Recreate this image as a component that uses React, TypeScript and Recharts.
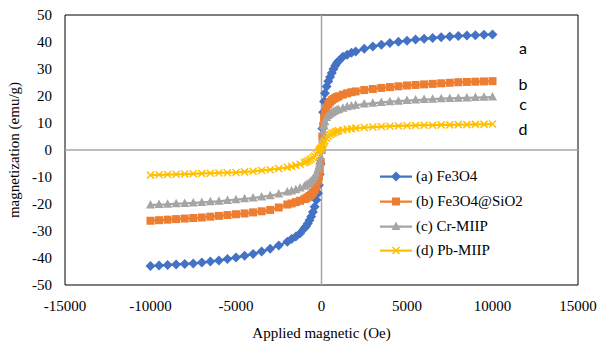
import React from "react";
import { LineChart, Line, XAxis, YAxis, ReferenceLine, ReferenceArea, Label } from "recharts";

// applied field (Oe)
const fieldOe = [
  -10000, -9500, -9000, -8500, -8000, -7500, -7000, -6500, -6000, -5500, -5000, -4500, -4000, -3500, -3000, -2500,
  -2000, -1750, -1500, -1250, -1000, -900, -800, -700, -600, -500, -400, -300, -200, -150, -100, -50, 0,
  50, 100, 150, 200, 300, 400, 500, 600, 700, 800, 900, 1000, 1250, 1500, 1750, 2000,
  2500, 3000, 3500, 4000, 4500, 5000, 5500, 6000, 6500, 7000, 7500, 8000, 8500, 9000, 9500, 10000,
];

// magnetization (emu/g)
const fe3o4 = [
  -43, -42.8, -42.6, -42.4, -42.2, -42, -41.7, -41.3, -40.9, -40.4, -39.8, -39.2, -38.5, -37.6, -36.6, -35.4,
  -34, -33, -32, -30.8, -29, -28.2, -27.2, -26, -24.6, -23, -21, -18.5, -16, -13, -9, -5, 0,
  8, 14, 18, 21, 23.5, 25.5, 27, 28.5, 30, 31.2, 32.2, 33, 34.5, 35.3, 36, 36.5,
  37.5, 38.3, 39, 39.6, 40.1, 40.5, 40.9, 41.2, 41.5, 41.8, 42, 42.2, 42.4, 42.5, 42.7, 42.8,
];
const fe3o4SiO2 = [
  -26.2, -26, -25.8, -25.6, -25.4, -25.2, -25, -24.7, -24.4, -24.1, -23.8, -23.5, -23.1, -22.7, -22.2, -21.3,
  -20.2, -19.8, -19.3, -18.8, -18.2, -17.9, -17.5, -17, -16.5, -15.8, -14.9, -13.6, -11.5, -9.8, -7.5, -4.5, 0,
  5, 9, 12, 14, 15.8, 17, 17.8, 18.4, 18.9, 19.3, 19.6, 19.9, 20.5, 21, 21.4, 21.7,
  22.2, 22.6, 23, 23.3, 23.6, 23.9, 24.1, 24.3, 24.5, 24.7, 24.9, 25.1, 25.2, 25.3, 25.4, 25.5,
];
const crMiip = [
  -20.4, -20.2, -20.1, -19.9, -19.8, -19.6, -19.4, -19.2, -19, -18.7, -18.4, -18.1, -17.8, -17.4, -16.9, -16.3,
  -15.6, -15.2, -14.7, -14.1, -13.4, -13, -12.6, -12.1, -11.5, -10.8, -9.9, -8.7, -7, -5.9, -4.5, -2.5, 0,
  4, 7, 9, 10.5, 12, 12.8, 13.3, 13.8, 14.2, 14.5, 14.8, 15, 15.5, 16, 16.3, 16.6,
  17, 17.3, 17.6, 17.9, 18.1, 18.3, 18.5, 18.7, 18.8, 19, 19.1, 19.2, 19.3, 19.4, 19.5, 19.6,
];
const pbMiip = [
  -9.3, -9.2, -9.1, -9, -8.9, -8.8, -8.7, -8.6, -8.5, -8.4, -8.3, -8.1, -7.9, -7.6, -7.3, -6.9,
  -6.4, -6.1, -5.7, -5.3, -4.7, -4.4, -4.1, -3.7, -3.3, -2.8, -2.2, -1.5, -0.8, -0.3, 0.2, 0.5, 0.8,
  1.3, 2.1, 2.8, 3.4, 4.3, 5.1, 5.7, 6.1, 6.4, 6.7, 6.9, 7.1, 7.4, 7.7, 7.9, 8.1,
  8.3, 8.5, 8.7, 8.8, 8.9, 9, 9.1, 9.2, 9.2, 9.3, 9.3, 9.4, 9.4, 9.5, 9.5, 9.6,
];

const xTicks = [-15000, -10000, -5000, 0, 5000, 10000, 15000];
const yTicks = [-50, -40, -30, -20, -10, 0, 10, 20, 30, 40, 50];

const seriesKeys = ["a", "b", "c", "d"];
const seriesNames = ["(a) Fe3O4", "(b) Fe3O4@SiO2", "(c) Cr-MIIP", "(d) Pb-MIIP"];
const seriesColors = ["#4472C4", "#ED7D31", "#A5A5A5", "#FFC000"];
const curveLetters = ["a", "b", "c", "d"];

const data = fieldOe.map((x, i) => ({
  x,
  a: fe3o4[i],
  b: fe3o4SiO2[i],
  c: crMiip[i],
  d: pbMiip[i],
}));

const serif = "Liberation Serif, DejaVu Serif, Times New Roman, serif";

function Marker({ kind, cx, cy, color }: { kind: number; cx: number; cy: number; color: string }) {
  if (kind === 0) {
    return <polygon points={`${cx},${cy - 5} ${cx + 5},${cy} ${cx},${cy + 5} ${cx - 5},${cy}`} fill={color} />;
  }
  if (kind === 1) {
    return <rect x={cx - 4} y={cy - 4} width={8} height={8} fill={color} />;
  }
  if (kind === 2) {
    return <polygon points={`${cx},${cy - 5} ${cx + 4.5},${cy + 3.5} ${cx - 4.5},${cy + 3.5}`} fill={color} />;
  }
  return (
    <g stroke={color} strokeWidth={1.5}>
      <line x1={cx - 3.5} y1={cy - 3.5} x2={cx + 3.5} y2={cy + 3.5} />
      <line x1={cx - 3.5} y1={cy + 3.5} x2={cx + 3.5} y2={cy - 3.5} />
    </g>
  );
}

const letterTops = [47, 83, 103, 128];
const legendTops = [176, 201, 226, 250];

export default function App() {
  return (
    <div style={{ position: "absolute", left: 0, top: 0, width: 600, height: 341, background: "#fff", fontFamily: serif }}>
      <LineChart width={600} height={341} data={data} margin={{ top: 15, right: 22, bottom: 0, left: 0 }}>
        <XAxis
          dataKey="x"
          type="number"
          domain={[-15000, 15000]}
          ticks={xTicks}
          axisLine={false}
          tickLine={false}
          height={56}
          tickMargin={9}
          fontFamily={serif}
          tick={{ fontSize: 15, fill: "#000", fontFamily: serif }}
        >
          <Label value="Applied magnetic (Oe)" position="insideBottom" offset={3} fontFamily={serif} style={{ fontSize: 15, fill: "#000", fontFamily: serif }} />
        </XAxis>
        <YAxis
          type="number"
          domain={[-50, 50]}
          ticks={yTicks}
          axisLine={false}
          tickLine={false}
          width={65}
          tickMargin={7}
          fontFamily={serif}
          tick={{ fontSize: 15, fill: "#000", fontFamily: serif }}
        >
          <Label
            value="magnetization (emu/g)"
            angle={-90}
            position="insideLeft"
            offset={14}
            fontFamily={serif}
            style={{ fontSize: 15, fill: "#000", fontFamily: serif, textAnchor: "middle" }}
          />
        </YAxis>
        <ReferenceLine x={0} stroke="#A6A6A6" strokeWidth={1.5} />
        <ReferenceLine y={0} stroke="#A6A6A6" strokeWidth={1.5} />
        <ReferenceArea x1={-15000} x2={15000} y1={-50} y2={50} fill="none" stroke="#000" strokeWidth={1} />
        {seriesKeys.map((k, s) => (
          <Line
            key={k}
            dataKey={k}
            type="linear"
            stroke={seriesColors[s]}
            strokeWidth={2.25}
            isAnimationActive={false}
            activeDot={false}
            dot={(p: any) => <Marker key={`${k}-${p.index}`} kind={s} cx={p.cx} cy={p.cy} color={seriesColors[s]} />}
          />
        ))}
      </LineChart>

      {curveLetters.map((t, i) => (
        <span
          key={t}
          style={{
            position: "absolute",
            left: 523,
            top: letterTops[i],
            transform: "translate(-50%, -50%)",
            fontFamily: "Lato, 'Liberation Sans', sans-serif",
            fontSize: 16,
            color: "#000",
          }}
        >
          {t}
        </span>
      ))}

      {seriesNames.map((name, i) => (
        <div
          key={name}
          style={{
            position: "absolute",
            left: 380,
            top: legendTops[i],
            transform: "translateY(-50%)",
            display: "flex",
            alignItems: "center",
            fontFamily: serif,
            fontSize: 15,
            color: "#000",
            whiteSpace: "nowrap",
          }}
        >
          <svg width={32} height={12} style={{ marginRight: 4 }}>
            <line x1={0} y1={6} x2={32} y2={6} stroke={seriesColors[i]} strokeWidth={2.25} />
            <Marker kind={i} cx={16} cy={6} color={seriesColors[i]} />
          </svg>
          <span>{name}</span>
        </div>
      ))}
    </div>
  );
}
